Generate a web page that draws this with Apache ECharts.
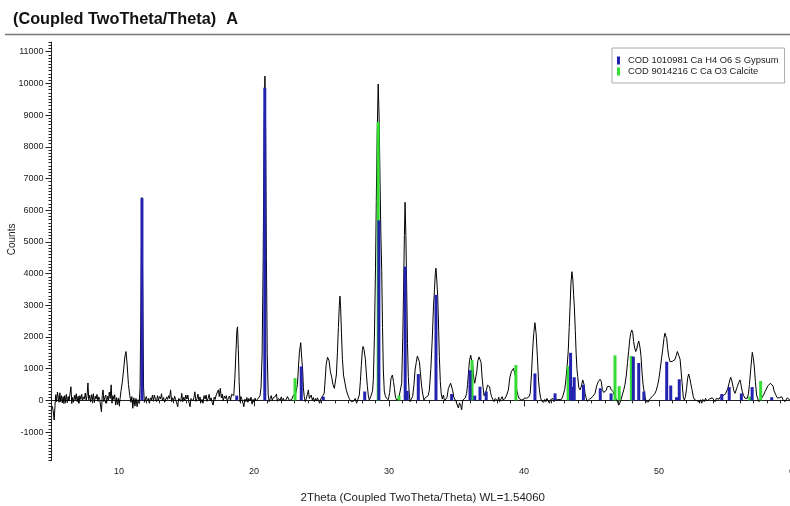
<!DOCTYPE html>
<html><head><meta charset="utf-8">
<script src="https://cdn.jsdelivr.net/npm/echarts@6/dist/echarts.min.js"></script>
<style>html,body{margin:0;padding:0;background:#fff}#c{width:790px;height:506px}</style>
</head><body><div id="c"></div>
<script>
const titleText = '(Coupled TwoTheta/Theta)';
const panelLetter = 'A';
const xAxisName = '2Theta (Coupled TwoTheta/Theta) WL=1.54060';
const yAxisName = 'Counts';
const xTickLabels = [10, 20, 30, 40, 50, 60];
const yTickLabels = [-1000, 0, 1000, 2000, 3000, 4000, 5000, 6000, 7000, 8000, 9000, 10000, 11000];
const gypsumName = 'COD 1010981 Ca H4 O6 S Gypsum';
const calciteName = 'COD 9014216 C Ca O3 Calcite';

// measured pattern: [2theta, counts]
const scan = [
[5.05,-180],[5.12,-320],[5.2,-620],[5.26,-150],[5.32,180],[5.38,-40],[5.44,260],[5.5,300],[5.56,-60],[5.62,240],[5.68,-40],[5.74,150],[5.8,-80],[5.86,120],[5.92,-100],[5.98,150],[6.04,-50],[6.1,190],[6.17,-70],[6.24,120],[6.3,-20],[6.37,200],[6.44,430],[6.5,-100],[6.56,90],[6.63,-60],[6.7,160],[6.76,20],[6.83,210],[6.9,-40],[6.97,130],[7.04,-90],[7.1,150],[7.17,30],[7.24,190],[7.3,-20],[7.37,110],[7.44,40],[7.5,230],[7.57,0],[7.63,140],[7.7,550],[7.76,20],[7.83,160],[7.9,-50],[7.97,180],[8.04,10],[8.1,210],[8.17,-70],[8.24,130],[8.3,40],[8.37,190],[8.44,-30],[8.5,110],[8.57,30],[8.64,-20],[8.7,-360],[8.76,150],[8.82,330],[8.88,-40],[8.95,100],[9.02,170],[9.08,-90],[9.15,130],[9.22,10],[9.28,260],[9.35,60],[9.42,490],[9.48,-90],[9.55,150],[9.62,30],[9.68,180],[9.75,-150],[9.82,90],[9.88,-130],[9.95,70],[10.02,-160],[10.08,60],
[10.15,300],[10.25,600],[10.35,1000],[10.44,1400],[10.52,1540],[10.6,1150],[10.7,500],[10.8,150],[10.88,-60],[10.95,120],[11.02,-250],[11.1,80],[11.18,-180],[11.26,60],[11.34,-200],[11.42,20],[11.5,-100],[11.56,400],[11.62,2800],[11.7,6400],[11.76,3400],[11.82,400],[11.88,-60],
[11.95,-40],[12.02,120],[12.1,-20],[12.18,60],[12.25,-90],[12.32,80],[12.4,10],[12.48,170],[12.55,-30],[12.62,170],[12.7,30],[12.78,-40],[12.85,150],[12.92,0],[13.0,120],[13.08,50],[13.15,210],[13.22,-20],[13.3,90],[13.38,-60],[13.46,-90],[13.53,110],[13.6,30],[13.68,150],[13.75,60],[13.82,330],[13.9,-40],[13.97,80],[14.04,-20],[14.12,130],[14.2,20],[14.27,-80],[14.35,-200],[14.42,60],[14.5,120],[14.57,-30],[14.65,220],[14.72,-40],[14.8,100],[14.88,-10],[14.95,170],[15.03,40],[15.1,170],[15.18,-60],[15.26,-200],[15.33,60],[15.4,120],[15.48,-20],[15.55,90],[15.62,270],[15.7,-30],[15.78,60],[15.85,200],[15.92,-20],[16.0,110],[16.07,-60],[16.15,30],[16.22,-90],[16.3,150],[16.38,40],[16.45,170],[16.52,-30],[16.6,60],[16.68,190],[16.75,-20],[16.82,80],[16.9,-60],[16.97,-150],[17.05,100],[17.12,30],[17.2,170],[17.28,220],[17.36,330],[17.43,120],[17.5,380],[17.58,80],[17.65,200],[17.72,-20],[17.8,140],[17.88,60],[17.95,150],[18.02,-30],[18.1,60],[18.18,140],[18.26,0],[18.34,190],[18.42,220],[18.5,150],
[18.58,700],[18.66,1500],[18.73,2200],[18.78,2320],[18.84,1600],[18.9,600],[18.96,-40],[19.03,120],[19.1,40],[19.18,-80],[19.25,-200],[19.32,40],[19.4,-40],[19.47,90],[19.55,-60],[19.62,60],[19.7,-20],[19.78,100],[19.86,-120],[19.93,30],[20.0,-60],[20.08,70],[20.15,-20],[20.22,-40],[20.3,60],[20.38,120],[20.45,150],
[20.52,400],[20.6,1400],[20.68,4500],[20.75,8500],[20.81,10230],[20.86,8500],[20.92,4500],[20.98,1500],[21.05,200],[21.12,-40],[21.2,60],[21.28,150],[21.35,-10],[21.42,80],[21.5,20],[21.58,120],[21.66,200],[21.73,-30],[21.8,60],[21.88,20],[21.95,10],[22.02,110],[22.1,-20],[22.17,65],[22.25,-10],[22.32,-40],[22.4,30],[22.47,120],[22.54,110],[22.62,0],[22.7,60],[22.78,20],[22.86,65],[22.93,170],[23.0,150],[23.08,200],[23.16,220],
[23.22,500],[23.28,960],[23.36,1500],[23.46,1820],[23.54,1300],[23.6,1000],[23.66,400],[23.72,120],[23.8,-40],[23.88,60],[23.96,200],[24.03,330],[24.1,60],[24.17,100],[24.24,170],[24.32,10],[24.4,90],[24.47,-40],[24.55,60],[24.62,-20],[24.7,80],[24.78,0],[24.86,-90],[24.94,40],[25.02,70],[25.1,150],
[25.2,220],[25.28,700],[25.35,1150],[25.45,1360],[25.56,1250],[25.66,900],[25.75,740],[25.85,500],[25.95,380],[26.02,420],[26.1,800],[26.18,1500],[26.25,2300],[26.32,3000],[26.37,3290],[26.42,2900],[26.48,2100],[26.55,1300],[26.63,800],[26.74,540],[26.85,300],[26.95,170],[27.05,60],[27.12,120],[27.2,-40],[27.3,20],[27.4,-20],[27.5,60],[27.6,-90],[27.7,40],
[27.8,170],[27.88,600],[27.95,1100],[28.03,1600],[28.08,1700],[28.15,1600],[28.25,1300],[28.33,800],[28.4,430],[28.47,150],[28.54,13],[28.62,80],[28.7,120],[28.78,300],[28.84,650],[28.92,2000],[29.0,4200],[29.06,6300],[29.12,8300],[29.2,9980],[29.27,8900],[29.34,6800],[29.4,5200],[29.46,4100],[29.52,2300],[29.58,960],[29.65,300],[29.72,150],[29.8,70],[29.88,40],[29.95,20],
[30.05,250],[30.15,700],[30.25,800],[30.33,600],[30.4,380],[30.48,100],[30.57,0],[30.65,40],[30.72,65],[30.8,90],[30.86,118],[30.94,540],[31.02,2000],[31.08,3500],[31.14,5200],[31.19,6250],[31.25,5200],[31.31,3580],[31.37,1800],[31.43,750],[31.5,200],[31.56,-40],[31.65,40],[31.75,118],
[31.85,500],[31.93,960],[32.02,1200],[32.1,1400],[32.17,1460],[32.25,1220],[32.32,900],[32.42,430],[32.5,200],[32.59,13],[32.68,80],[32.79,65],[32.9,150],[32.99,330],[33.1,1000],[33.2,1900],[33.3,3000],[33.37,3500],[33.43,4000],[33.48,4170],[33.54,3800],[33.61,3270],[33.68,2200],[33.73,1380],[33.8,600],[33.87,200],[33.95,40],
[34.03,170],[34.12,-20],[34.2,-40],[34.3,100],[34.4,380],[34.5,420],[34.57,540],[34.64,590],[34.72,300],[34.8,100],[34.89,65],[34.97,-40],[35.06,-90],[35.14,-240],[35.22,-80],[35.3,-150],[35.38,-300],[35.46,0],[35.55,40],[35.65,80],
[35.75,220],[35.82,500],[35.88,840],[35.96,1250],[36.05,1430],[36.12,1450],[36.2,1100],[36.28,700],[36.35,540],[36.42,600],[36.5,900],[36.58,1250],[36.67,1370],[36.74,1400],[36.82,1200],[36.9,700],[36.97,400],[37.04,150],[37.11,120],[37.2,300],[37.3,480],[37.38,540],[37.45,430],[37.52,250],[37.6,118],[37.68,40],[37.78,-40],[37.87,60],[37.97,65],[38.05,-20],[38.13,100],[38.2,-40],[38.3,-90],[38.38,118],[38.45,20],[38.52,-40],[38.6,60],
[38.72,170],[38.84,330],[38.96,740],[39.06,900],[39.14,960],[39.22,1010],[39.3,950],[39.38,750],[39.46,330],[39.56,150],[39.64,60],[39.72,120],[39.8,20],[39.88,-40],[39.95,13],[40.04,80],[40.12,40],[40.2,65],[40.3,60],[40.38,120],
[40.46,220],[40.55,800],[40.64,1580],[40.72,2100],[40.81,2450],[40.9,2100],[40.99,1380],[41.08,600],[41.15,300],[41.22,100],[41.3,-20],[41.38,40],[41.46,-60],[41.54,30],[41.62,-40],[41.7,60],[41.8,0],[41.88,-90],[41.96,20],[42.05,-30],[42.14,60],[42.22,-40],[42.3,80],[42.4,10],[42.48,-50],[42.56,30],[42.65,80],[42.75,20],[42.85,100],[42.94,150],
[43.02,350],[43.1,640],[43.2,1100],[43.28,1580],[43.35,2300],[43.41,2950],[43.48,3700],[43.55,4060],[43.62,3800],[43.68,3300],[43.73,2950],[43.8,2200],[43.86,1500],[43.92,1000],[43.98,750],[44.06,400],[44.15,330],[44.25,450],[44.35,645],[44.45,500],[44.52,220],[44.6,80],[44.68,-30],[44.77,-50],[44.86,40],[44.95,20],
[45.05,100],[45.14,150],[45.26,220],[45.38,450],[45.5,590],[45.63,665],[45.72,600],[45.8,350],[45.9,250],[46.0,275],[46.1,320],[46.17,435],[46.25,380],[46.37,435],[46.46,330],[46.55,280],[46.62,270],[46.7,150],[46.8,60],[46.86,10],[46.94,-60],[47.02,-150],[47.1,-80],[47.2,40],
[47.3,200],[47.4,350],[47.48,500],[47.58,800],[47.67,1200],[47.75,1550],[47.83,1900],[47.9,2110],[47.98,2220],[48.05,2150],[48.12,1850],[48.2,1650],[48.28,1540],[48.35,1620],[48.42,1760],[48.5,1870],[48.54,1880],[48.6,1650],[48.67,1380],[48.74,900],[48.82,500],[48.9,275],[48.98,80],[49.06,-40],[49.15,-20],[49.22,-50],[49.3,40],[49.4,80],[49.5,118],[49.6,160],[49.7,220],
[49.8,320],[49.9,480],[49.98,650],[50.08,950],[50.18,1300],[50.28,1620],[50.37,1960],[50.44,2120],[50.5,2170],[50.57,1950],[50.64,1640],[50.72,1380],[50.82,1220],[50.9,1200],[50.99,1230],[51.08,1220],[51.19,1295],[51.28,1420],[51.36,1540],[51.43,1570],[51.5,1570],[51.56,1300],[51.63,960],[51.7,600],[51.8,100],[51.88,10],
[51.96,120],[52.05,400],[52.12,700],[52.2,830],[52.28,700],[52.35,540],[52.44,350],[52.54,118],[52.63,20],[52.72,-40],[52.82,-10],[52.92,40],[53.0,-60],[53.08,20],[53.16,-90],[53.25,30],[53.35,-40],[53.45,60],[53.55,-20],[53.65,-40],[53.75,50],[53.85,0],[53.95,80],[54.05,20],[54.15,-40],[54.25,60],[54.35,100],[54.45,40],[54.55,120],[54.64,65],[54.74,150],[54.82,170],[54.92,200],
[55.01,223],[55.1,380],[55.19,540],[55.25,650],[55.31,730],[55.38,640],[55.46,485],[55.55,300],[55.63,223],[55.72,330],[55.8,435],[55.9,560],[56.0,645],[56.08,480],[56.17,275],[56.27,150],[56.37,65],[56.45,80],[56.54,65],
[56.62,200],[56.7,500],[56.78,900],[56.86,1300],[56.91,1515],[56.98,1350],[57.06,1065],[57.14,600],[57.23,170],[57.32,40],[57.41,-40],[57.5,20],[57.6,65],[57.7,120],[57.78,200],[57.85,275],[57.95,350],[58.05,450],[58.15,500],[58.25,540],[58.35,570],[58.45,450],[58.52,300],[58.59,275],[58.68,150],[58.76,80],[58.84,30],
[58.92,80],[59.0,60],[59.09,118],[59.18,20],[59.26,40],[59.33,-40],[59.42,20],[59.5,80],[59.58,65],[59.66,20],[59.75,-20],[59.85,40],[59.93,10],[60.0,30]
];

// reference sticks: [2theta, counts]
const gypsumSticks = [
[11.7,6380],[18.72,150],[20.8,9860],[23.5,1070],[25.13,120],[28.2,280],[29.25,5680],[31.2,4220],[31.35,300],[32.17,830],[33.48,3330],[34.64,200],
[36.0,950],[36.35,150],[36.74,430],[37.2,280],[40.81,850],[42.3,220],[43.45,1500],[43.58,430],[43.72,730],[44.4,490],[45.65,380],[46.45,220],
[48.1,1380],[48.5,1180],[48.88,280],[50.57,1220],[50.87,470],[51.3,100],[51.5,665],[54.65,200],[55.2,420],[56.1,220],[56.9,420],[58.35,100]
];
const calciteSticks = [
[23.04,700],[29.2,8780],[30.74,150],[36.15,1270],[39.4,1115],[43.27,1080],[46.74,1420],[47.05,450],[47.95,1400],[56.72,120],[57.53,610]
];

const font = 'Liberation Sans, Arial, sans-serif';
const axisColor = '#222';
const chart = echarts.init(document.getElementById('c'), null, {renderer: 'canvas'});
chart.setOption({
  animation: false,
  backgroundColor: '#fff',
  title: {
    left: 13, top: 11, padding: 0,
    text: '{t|' + titleText + '}  {a|' + panelLetter + '}',
    textStyle: {
      rich: {
        t: {fontSize: 16.3, fontFamily: font, color: '#111'},
        a: {fontSize: 16.3, fontFamily: font, fontWeight: 'bold', color: '#111'}
      }
    }
  },
  graphic: [{
    type: 'line', shape: {x1: 5, y1: 34.5, x2: 790, y2: 34.5},
    style: {stroke: '#777', lineWidth: 1.5}, silent: true
  }],
  legend: {
    data: [gypsumName, calciteName],
    orient: 'vertical', left: 612, top: 48,
    padding: [7, 6, 6, 5], itemGap: 0,
    itemWidth: 3, itemHeight: 8, icon: 'rect',
    backgroundColor: '#fff', borderColor: '#aaa', borderWidth: 1,
    textStyle: {fontSize: 9.4, fontFamily: font, color: '#222', lineHeight: 11, padding: [0, 0, 0, 3]},
    selectedMode: false
  },
  grid: {left: 51.5, right: -4, top: 42.2, bottom: 45.4, containLabel: false, outerBoundsMode: 'none'},
  xAxis: [{
    type: 'value', min: 5, max: 60, interval: 1,
    name: xAxisName, nameLocation: 'middle', nameGap: 31, nameMoveOverlap: false,
    nameTextStyle: {fontSize: 11.5, fontFamily: font, color: '#222'},
    axisLine: {lineStyle: {color: axisColor, width: 1}},
    axisTick: {length: 3, lineStyle: {color: axisColor}},
    axisLabel: {customValues: xTickLabels, fontSize: 9, fontFamily: font, color: '#222', margin: 6,
      formatter: v => (v % 10 === 0 ? String(v) : '')},
    splitLine: {show: false}
  }, {
    type: 'value', min: 5, max: 60, position: 'bottom',
    axisLine: {show: false},
    axisTick: {customValues: xTickLabels, length: 6, lineStyle: {color: axisColor}},
    axisLabel: {show: false}, splitLine: {show: false}
  }],
  yAxis: [{
    type: 'value', min: -1900, max: 11300, interval: 100,
    name: yAxisName, nameLocation: 'middle', nameGap: 34, nameMoveOverlap: false,
    nameTextStyle: {fontSize: 10, fontFamily: font, color: '#222', padding: [0, 0, 0, 24]},
    axisLine: {show: true, lineStyle: {color: axisColor, width: 1}},
    axisTick: {show: true, length: 3, lineStyle: {color: axisColor}},
    axisLabel: {customValues: yTickLabels, fontSize: 9, fontFamily: font, color: '#222', margin: 8,
      formatter: v => (v % 1000 === 0 ? String(v) : '')},
    splitLine: {show: false}
  }, {
    type: 'value', min: -1900, max: 11300, position: 'left',
    axisLine: {show: false},
    axisTick: {show: true, customValues: yTickLabels, length: 6, lineStyle: {color: axisColor}},
    axisLabel: {show: false}, splitLine: {show: false}
  }],
  series: [{
    type: 'line', name: 'scan', data: scan, xAxisIndex: 0, yAxisIndex: 0,
    showSymbol: false, symbol: 'none', silent: true,
    lineStyle: {color: '#000', width: 1}, z: 2
  }, {
    type: 'bar', name: calciteName, data: calciteSticks, xAxisIndex: 0, yAxisIndex: 0,
    barWidth: 3, barGap: '-100%', itemStyle: {color: '#33dd33'}, z: 3, silent: true
  }, {
    type: 'bar', name: gypsumName, data: gypsumSticks, xAxisIndex: 0, yAxisIndex: 0,
    barWidth: 3, barGap: '-100%', itemStyle: {color: '#2323b0'}, z: 4, silent: true
  }]
});
</script></body></html>
